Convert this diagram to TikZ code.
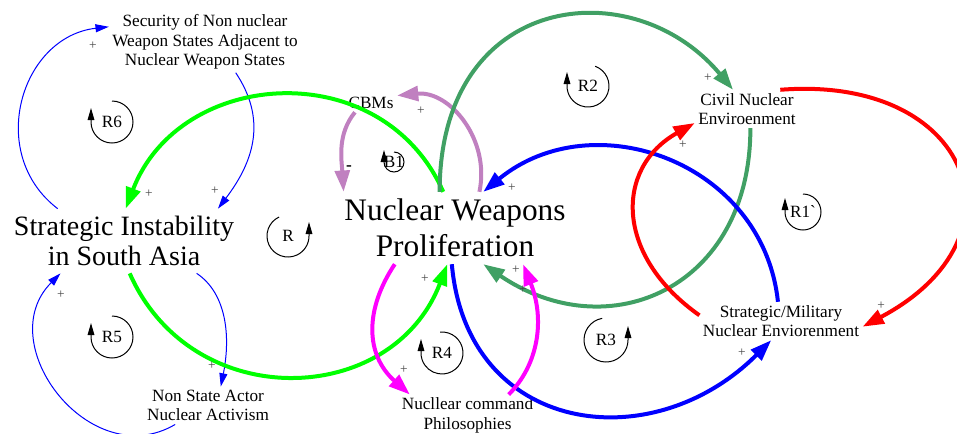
\documentclass[tikz,border=0pt]{standalone}
\usepackage{fontspec}
\setmainfont{Liberation Serif}
\usetikzlibrary{arrows.meta}

\definecolor{cldblue}{RGB}{0,0,255}
\definecolor{cldlime}{RGB}{0,255,0}
\definecolor{cldsea}{RGB}{64,160,100}
\definecolor{cldlilac}{RGB}{192,128,192}
\definecolor{cldmagenta}{RGB}{255,0,255}
\definecolor{cldred}{RGB}{255,0,0}
\definecolor{cldsign}{RGB}{70,70,70}

\tikzset{every picture/.style={line width=0.75pt},
  var/.style={align=center, inner sep=2.25pt, font=\fontsize{12.9}{14.5}\selectfont},
  bigvar/.style={align=center, inner xsep=1.5pt, inner ysep=5pt},
  sign/.style={text=cldsign, inner sep=0pt, font=\fontsize{10}{10}\selectfont},
  loopname/.style={inner sep=0pt, font=\fontsize{12.9}{14.5}\selectfont},
  loopmark/.style={line width=0.75pt, -{Triangle[length=9pt,width=5pt]}},
  thinlink/.style={draw=cldblue, line width=0.75pt, -{Triangle[length=10pt,width=6pt]}},
  thicklink/.style={line width=3pt, -{Triangle[length=16pt,width=11pt]}}
}

\begin{document}
\begin{tikzpicture}[x=0.75pt,y=0.75pt,yscale=-1,xscale=1]
\useasboundingbox (0,0) rectangle (957,433);

% Text Node
\node[var] (sec) at (205,42) {Security of Non nuclear\\Weapon States Adjacent to\\Nuclear Weapon States};
% Text Node
\node[bigvar, font=\fontsize{21}{23}\selectfont] (sia) at (124,241) {Strategic Instability\\in South Asia};
% Text Node
\node[bigvar, font=\fontsize{23.5}{27}\selectfont] (nwp) at (455,228) {Nuclear Weapons\\Proliferation};
% Text Node
\node[var] (cbms) at (371,103) {CBMs};
% Text Node
\node[var] (cne) at (747,109) {Civil Nuclear\\Enviroenment};
% Text Node
\node[var] (smne) at (781,321) {Strategic/Military\\Nuclear Enviorenment};
% Text Node
\node[var] (nsa) at (208,405.5) {Non State Actor\\Nuclear Activism};
% Text Node
\node[var] (ncp) at (467.5,415.5) {Nucllear command\\Philosophies};

%Curve Lines
\draw[thinlink] (sia.154) .. controls +(-72,-55) and +(-88,10) .. (sec.171.5);
\draw[thinlink] (sec.315) .. controls +(30,45) and +(38,-50) .. (sia.19.5);
\draw[thinlink] (sia.336) .. controls +(30,20) and +(10,-50) .. (nsa.56);
\draw[thinlink] (nsa.210) .. controls +(-85,50) and +(-70,70) .. (sia.207);
%Curve Lines
\draw[thicklink, draw=cldlime] (nwp.108) .. controls +(-61,-138) and +(54,-141) .. (sia.87);
\draw[thicklink, draw=cldlime] (sia.280) .. controls +(62,141) and +(-55,144) .. (nwp.258);
%Curve Lines
\draw[thicklink, draw=cldlilac] (nwp.56) .. controls +(11,-52) and +(53,-5) .. (cbms.16.5);
\draw[thicklink, draw=cldlilac] (cbms.210) .. controls +(-18,22) and +(-2,-32) .. (nwp.162);
%Curve Lines
\draw[thicklink, draw=cldsea] (nwp.113) .. controls +(0,-200) and +(-100,-120) .. (cne.126);
\draw[thicklink, draw=cldsea] (cne.280) .. controls +(0,160) and +(125,85) .. (nwp.308);
%Curve Lines
\draw[thicklink, draw=cldblue] (smne.99) .. controls +(-15,-140) and +(110,-90) .. (nwp.52);
\draw[thicklink, draw=cldblue] (nwp.265) .. controls +(15,170) and +(-120,120) .. (smne.243);
%Curve Lines
\draw[thicklink, draw=cldred] (smne.176) .. controls +(-85,-60) and +(-80,45) .. (cne.195);
\draw[thicklink, draw=cldred] (cne.30) .. controls +(190,-15) and +(170,-90) .. (smne.356);
%Curve Lines
\draw[thicklink, draw=cldmagenta] (nwp.211) .. controls +(-30,45) and +(-45,-40) .. (ncp.160);
\draw[thicklink, draw=cldmagenta] (ncp.27) .. controls +(30,-30) and +(22,55) .. (nwp.332);

% Text Node
\node[sign] (s1) at (93,46) {+};
\node[sign] (s2) at (149,194) {+};
\node[sign] (s3) at (215,191) {+};
\node[sign] (s4) at (61,295) {+};
\node[sign] (s5) at (212,366) {+};
\node[sign] (s6) at (421,111) {+};
\node[inner sep=0pt, font=\fontsize{13}{13}\selectfont\bfseries] (s7) at (349,168) {-};
\node[sign] (s8) at (512,188) {+};
\node[sign] (s9) at (708,78) {+};
\node[sign] (s10) at (683,145) {+};
\node[sign] (s11) at (881,306) {+};
\node[sign] (s12) at (742,353) {+};
\node[sign] (s13) at (425,279) {+};
\node[sign] (s14) at (516,270) {+};
\node[sign] (s15) at (523,290) {+};
\node[sign] (s16) at (404,370) {+};

% Text Node
\node[loopname] (r6) at (112,122) {R6};
\draw[loopmark] (r6.center) ++(-90:21) arc[start angle=-90, end angle=180, radius=21] -- ++(0,-14);
% Text Node
\node[loopname] (r0) at (288,236) {R};
\draw[loopmark] (r0.center) ++(-115:21) arc[start angle=-115, end angle=-360, radius=21] -- ++(0,-14);
% Text Node
\node[loopname] (b1) at (394,162) {B1};
\draw[loopmark] (b1.center) ++(-90:10) arc[start angle=-90, end angle=180, radius=10] -- ++(0,-12);
% Text Node
\node[loopname] (r2) at (588,86) {R2};
\draw[loopmark] (r2.center) ++(-70:21) arc[start angle=-70, end angle=180, radius=21] -- ++(0,-14);
% Text Node
\node[loopname] (r1) at (803,212) {R1\textasciigrave};
\draw[loopmark] (r1.center) ++(-90:18) arc[start angle=-90, end angle=180, radius=18] -- ++(0,-14);
% Text Node
\node[loopname] (r5) at (112,337) {R5};
\draw[loopmark] (r5.center) ++(-90:21) arc[start angle=-90, end angle=180, radius=21] -- ++(0,-14);
% Text Node
\node[loopname] (r4) at (442,353) {R4};
\draw[loopmark] (r4.center) ++(-95:21) arc[start angle=-95, end angle=180, radius=21] -- ++(0,-14);
% Text Node
\node[loopname] (r3) at (606,340) {R3};
\draw[loopmark] (r3.center) ++(-100:22) arc[start angle=-100, end angle=-360, radius=22] -- ++(0,-14);

\end{tikzpicture}
\end{document}
